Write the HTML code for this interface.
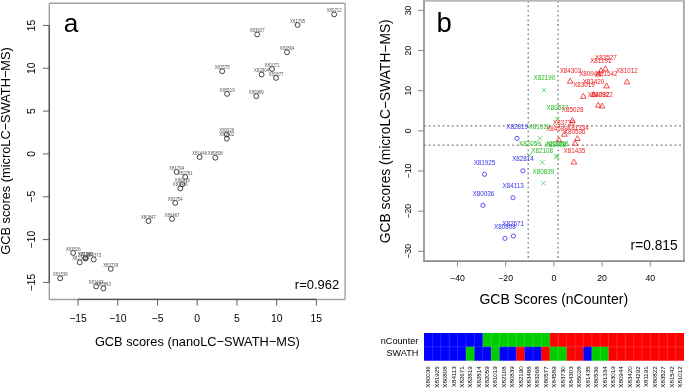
<!DOCTYPE html>
<html><head><meta charset="utf-8"><style>
html,body{margin:0;padding:0;background:#fff;}
body{width:685px;height:388px;overflow:hidden;font-family:"Liberation Sans", sans-serif;}
svg{display:block;will-change:transform;}
</style></head><body>
<svg width="685" height="388" viewBox="0 0 685 388">
<rect width="685" height="388" fill="#fff"/>
<line x1="49.3" y1="3.2" x2="345.1" y2="3.2" stroke="#a2a2a2" stroke-width="1.4"/>
<line x1="345.1" y1="3.2" x2="345.1" y2="299.45" stroke="#a2a2a2" stroke-width="1.4"/>
<line x1="49.3" y1="299.45" x2="345.1" y2="299.45" stroke="#a2a2a2" stroke-width="1.4"/>
<line x1="49.3" y1="3.2" x2="49.3" y2="299.45" stroke="#a2a2a2" stroke-width="1.4"/>
<line x1="49.3" y1="25.41" x2="49.3" y2="282.42" stroke="#505050" stroke-width="1.3"/>
<line x1="43" y1="282.42" x2="49.3" y2="282.42" stroke="#606060" stroke-width="1"/>
<text x="35.2" y="282.42" font-size="10.4" text-anchor="middle" fill="#000" font-family='"Liberation Sans", sans-serif' transform="rotate(-90 35.2 282.42)">−15</text>
<line x1="43" y1="239.59" x2="49.3" y2="239.59" stroke="#606060" stroke-width="1"/>
<text x="35.2" y="239.59" font-size="10.4" text-anchor="middle" fill="#000" font-family='"Liberation Sans", sans-serif' transform="rotate(-90 35.2 239.59)">−10</text>
<line x1="43" y1="196.75" x2="49.3" y2="196.75" stroke="#606060" stroke-width="1"/>
<text x="35.2" y="196.75" font-size="10.4" text-anchor="middle" fill="#000" font-family='"Liberation Sans", sans-serif' transform="rotate(-90 35.2 196.75)">−5</text>
<line x1="43" y1="153.92" x2="49.3" y2="153.92" stroke="#606060" stroke-width="1"/>
<text x="35.2" y="153.92" font-size="10.4" text-anchor="middle" fill="#000" font-family='"Liberation Sans", sans-serif' transform="rotate(-90 35.2 153.92)">0</text>
<line x1="43" y1="111.08" x2="49.3" y2="111.08" stroke="#606060" stroke-width="1"/>
<text x="35.2" y="111.08" font-size="10.4" text-anchor="middle" fill="#000" font-family='"Liberation Sans", sans-serif' transform="rotate(-90 35.2 111.08)">5</text>
<line x1="43" y1="68.25" x2="49.3" y2="68.25" stroke="#606060" stroke-width="1"/>
<text x="35.2" y="68.25" font-size="10.4" text-anchor="middle" fill="#000" font-family='"Liberation Sans", sans-serif' transform="rotate(-90 35.2 68.25)">10</text>
<line x1="43" y1="25.41" x2="49.3" y2="25.41" stroke="#606060" stroke-width="1"/>
<text x="35.2" y="25.41" font-size="10.4" text-anchor="middle" fill="#000" font-family='"Liberation Sans", sans-serif' transform="rotate(-90 35.2 25.41)">15</text>
<line x1="78.04" y1="299.45" x2="316.39" y2="299.45" stroke="#505050" stroke-width="1.3"/>
<line x1="78.04" y1="299.45" x2="78.04" y2="305.5" stroke="#606060" stroke-width="1"/>
<text x="78.04" y="321.8" font-size="10.4" text-anchor="middle" fill="#000" font-family='"Liberation Sans", sans-serif'>−15</text>
<line x1="117.77" y1="299.45" x2="117.77" y2="305.5" stroke="#606060" stroke-width="1"/>
<text x="117.77" y="321.8" font-size="10.4" text-anchor="middle" fill="#000" font-family='"Liberation Sans", sans-serif'>−10</text>
<line x1="157.5" y1="299.45" x2="157.5" y2="305.5" stroke="#606060" stroke-width="1"/>
<text x="157.5" y="321.8" font-size="10.4" text-anchor="middle" fill="#000" font-family='"Liberation Sans", sans-serif'>−5</text>
<line x1="197.22" y1="299.45" x2="197.22" y2="305.5" stroke="#606060" stroke-width="1"/>
<text x="197.22" y="321.8" font-size="10.4" text-anchor="middle" fill="#000" font-family='"Liberation Sans", sans-serif'>0</text>
<line x1="236.94" y1="299.45" x2="236.94" y2="305.5" stroke="#606060" stroke-width="1"/>
<text x="236.94" y="321.8" font-size="10.4" text-anchor="middle" fill="#000" font-family='"Liberation Sans", sans-serif'>5</text>
<line x1="276.67" y1="299.45" x2="276.67" y2="305.5" stroke="#606060" stroke-width="1"/>
<text x="276.67" y="321.8" font-size="10.4" text-anchor="middle" fill="#000" font-family='"Liberation Sans", sans-serif'>10</text>
<line x1="316.39" y1="299.45" x2="316.39" y2="305.5" stroke="#606060" stroke-width="1"/>
<text x="316.39" y="321.8" font-size="10.4" text-anchor="middle" fill="#000" font-family='"Liberation Sans", sans-serif'>15</text>
<text x="197.3" y="346.3" font-size="12.8" text-anchor="middle" fill="#000" font-family='"Liberation Sans", sans-serif'>GCB scores (nanoLC−SWATH−MS)</text>
<text x="10.2" y="151" font-size="12.8" text-anchor="middle" fill="#000" font-family='"Liberation Sans", sans-serif' transform="rotate(-90 10.2 151)">GCB scores (microLC−SWATH−MS)</text>
<text x="63.8" y="32" font-size="26.2" text-anchor="start" fill="#000" font-family='"Liberation Sans", sans-serif'>a</text>
<text x="339.1" y="288.5" font-size="12.95" text-anchor="end" fill="#000" font-family='"Liberation Sans", sans-serif'>r=0.962</text>
<circle cx="334.2" cy="14.4" r="2.45" fill="none" stroke="#222" stroke-width="0.85"/>
<circle cx="297.6" cy="25" r="2.45" fill="none" stroke="#222" stroke-width="0.85"/>
<circle cx="257.2" cy="34.5" r="2.45" fill="none" stroke="#222" stroke-width="0.85"/>
<circle cx="287" cy="52.3" r="2.45" fill="none" stroke="#222" stroke-width="0.85"/>
<circle cx="222.2" cy="71.2" r="2.45" fill="none" stroke="#222" stroke-width="0.85"/>
<circle cx="272" cy="69" r="2.45" fill="none" stroke="#222" stroke-width="0.85"/>
<circle cx="261.6" cy="74.5" r="2.45" fill="none" stroke="#222" stroke-width="0.85"/>
<circle cx="276" cy="77.9" r="2.45" fill="none" stroke="#222" stroke-width="0.85"/>
<circle cx="227.1" cy="93.9" r="2.45" fill="none" stroke="#222" stroke-width="0.85"/>
<circle cx="256.3" cy="96.2" r="2.45" fill="none" stroke="#222" stroke-width="0.85"/>
<circle cx="226.8" cy="134.6" r="2.45" fill="none" stroke="#222" stroke-width="0.85"/>
<circle cx="226.8" cy="138.6" r="2.45" fill="none" stroke="#222" stroke-width="0.85"/>
<circle cx="199.6" cy="157.1" r="2.45" fill="none" stroke="#222" stroke-width="0.85"/>
<circle cx="215.3" cy="157.7" r="2.45" fill="none" stroke="#222" stroke-width="0.85"/>
<circle cx="176.6" cy="171.9" r="2.45" fill="none" stroke="#222" stroke-width="0.85"/>
<circle cx="185.2" cy="177" r="2.45" fill="none" stroke="#222" stroke-width="0.85"/>
<circle cx="182.3" cy="184.3" r="2.45" fill="none" stroke="#222" stroke-width="0.85"/>
<circle cx="180.3" cy="188.4" r="2.45" fill="none" stroke="#222" stroke-width="0.85"/>
<circle cx="175.2" cy="202.9" r="2.45" fill="none" stroke="#222" stroke-width="0.85"/>
<circle cx="172" cy="218.9" r="2.45" fill="none" stroke="#222" stroke-width="0.85"/>
<circle cx="148.4" cy="221.1" r="2.45" fill="none" stroke="#222" stroke-width="0.85"/>
<circle cx="73.2" cy="253" r="2.45" fill="none" stroke="#222" stroke-width="0.85"/>
<circle cx="79.7" cy="262.4" r="2.45" fill="none" stroke="#222" stroke-width="0.85"/>
<circle cx="85.3" cy="258.5" r="2.45" fill="none" stroke="#222" stroke-width="0.85"/>
<circle cx="85.8" cy="258" r="2.45" fill="none" stroke="#222" stroke-width="0.85"/>
<circle cx="93.7" cy="259.6" r="2.45" fill="none" stroke="#222" stroke-width="0.85"/>
<circle cx="110.7" cy="268.9" r="2.45" fill="none" stroke="#222" stroke-width="0.85"/>
<circle cx="60.2" cy="278.3" r="2.45" fill="none" stroke="#222" stroke-width="0.85"/>
<circle cx="96.1" cy="286.4" r="2.45" fill="none" stroke="#222" stroke-width="0.85"/>
<circle cx="103.4" cy="288.4" r="2.45" fill="none" stroke="#222" stroke-width="0.85"/>
<text x="334.2" y="12.05" font-size="5" text-anchor="middle" fill="#555" font-family='"Liberation Sans", sans-serif' textLength="15" lengthAdjust="spacingAndGlyphs">X80712</text>
<text x="297.6" y="22.65" font-size="5" text-anchor="middle" fill="#555" font-family='"Liberation Sans", sans-serif' textLength="15" lengthAdjust="spacingAndGlyphs">X81795</text>
<text x="257.2" y="32.15" font-size="5" text-anchor="middle" fill="#555" font-family='"Liberation Sans", sans-serif' textLength="15" lengthAdjust="spacingAndGlyphs">X83637</text>
<text x="287" y="49.95" font-size="5" text-anchor="middle" fill="#555" font-family='"Liberation Sans", sans-serif' textLength="15" lengthAdjust="spacingAndGlyphs">X82804</text>
<text x="222.2" y="68.85" font-size="5" text-anchor="middle" fill="#555" font-family='"Liberation Sans", sans-serif' textLength="15" lengthAdjust="spacingAndGlyphs">X82575</text>
<text x="272" y="66.65" font-size="5" text-anchor="middle" fill="#555" font-family='"Liberation Sans", sans-serif' textLength="15" lengthAdjust="spacingAndGlyphs">X81071</text>
<text x="261.6" y="72.15" font-size="5" text-anchor="middle" fill="#555" font-family='"Liberation Sans", sans-serif' textLength="15" lengthAdjust="spacingAndGlyphs">X82904</text>
<text x="276" y="75.55" font-size="5" text-anchor="middle" fill="#555" font-family='"Liberation Sans", sans-serif' textLength="15" lengthAdjust="spacingAndGlyphs">X81877</text>
<text x="227.1" y="91.55" font-size="5" text-anchor="middle" fill="#555" font-family='"Liberation Sans", sans-serif' textLength="15" lengthAdjust="spacingAndGlyphs">X80519</text>
<text x="256.3" y="93.85" font-size="5" text-anchor="middle" fill="#555" font-family='"Liberation Sans", sans-serif' textLength="15" lengthAdjust="spacingAndGlyphs">X80989</text>
<text x="226.8" y="132.25" font-size="5" text-anchor="middle" fill="#555" font-family='"Liberation Sans", sans-serif' textLength="15" lengthAdjust="spacingAndGlyphs">X80926</text>
<text x="226.8" y="136.25" font-size="5" text-anchor="middle" fill="#555" font-family='"Liberation Sans", sans-serif' textLength="15" lengthAdjust="spacingAndGlyphs">X80402</text>
<text x="199.6" y="154.75" font-size="5" text-anchor="middle" fill="#555" font-family='"Liberation Sans", sans-serif' textLength="15" lengthAdjust="spacingAndGlyphs">X81446</text>
<text x="215.3" y="155.35" font-size="5" text-anchor="middle" fill="#555" font-family='"Liberation Sans", sans-serif' textLength="15" lengthAdjust="spacingAndGlyphs">X80808</text>
<text x="176.6" y="169.55" font-size="5" text-anchor="middle" fill="#555" font-family='"Liberation Sans", sans-serif' textLength="15" lengthAdjust="spacingAndGlyphs">X81794</text>
<text x="185.2" y="174.65" font-size="5" text-anchor="middle" fill="#555" font-family='"Liberation Sans", sans-serif' textLength="15" lengthAdjust="spacingAndGlyphs">X82761</text>
<text x="182.3" y="181.95" font-size="5" text-anchor="middle" fill="#555" font-family='"Liberation Sans", sans-serif' textLength="15" lengthAdjust="spacingAndGlyphs">X80419</text>
<text x="180.3" y="186.05" font-size="5" text-anchor="middle" fill="#555" font-family='"Liberation Sans", sans-serif' textLength="15" lengthAdjust="spacingAndGlyphs">X81406</text>
<text x="175.2" y="200.55" font-size="5" text-anchor="middle" fill="#555" font-family='"Liberation Sans", sans-serif' textLength="15" lengthAdjust="spacingAndGlyphs">X82754</text>
<text x="172" y="216.55" font-size="5" text-anchor="middle" fill="#555" font-family='"Liberation Sans", sans-serif' textLength="15" lengthAdjust="spacingAndGlyphs">X80467</text>
<text x="148.4" y="218.75" font-size="5" text-anchor="middle" fill="#555" font-family='"Liberation Sans", sans-serif' textLength="15" lengthAdjust="spacingAndGlyphs">X80847</text>
<text x="73.2" y="250.65" font-size="5" text-anchor="middle" fill="#555" font-family='"Liberation Sans", sans-serif' textLength="15" lengthAdjust="spacingAndGlyphs">X83516</text>
<text x="79.7" y="260.05" font-size="5" text-anchor="middle" fill="#555" font-family='"Liberation Sans", sans-serif' textLength="15" lengthAdjust="spacingAndGlyphs">X82348</text>
<text x="85.3" y="256.15" font-size="5" text-anchor="middle" fill="#555" font-family='"Liberation Sans", sans-serif' textLength="15" lengthAdjust="spacingAndGlyphs">X82780</text>
<text x="85.8" y="255.65" font-size="5" text-anchor="middle" fill="#555" font-family='"Liberation Sans", sans-serif' textLength="15" lengthAdjust="spacingAndGlyphs">X81902</text>
<text x="93.7" y="257.25" font-size="5" text-anchor="middle" fill="#555" font-family='"Liberation Sans", sans-serif' textLength="15" lengthAdjust="spacingAndGlyphs">X80373</text>
<text x="110.7" y="266.55" font-size="5" text-anchor="middle" fill="#555" font-family='"Liberation Sans", sans-serif' textLength="15" lengthAdjust="spacingAndGlyphs">X83739</text>
<text x="60.2" y="275.95" font-size="5" text-anchor="middle" fill="#555" font-family='"Liberation Sans", sans-serif' textLength="15" lengthAdjust="spacingAndGlyphs">X81538</text>
<text x="96.1" y="284.05" font-size="5" text-anchor="middle" fill="#555" font-family='"Liberation Sans", sans-serif' textLength="15" lengthAdjust="spacingAndGlyphs">X81438</text>
<text x="103.4" y="286.05" font-size="5" text-anchor="middle" fill="#555" font-family='"Liberation Sans", sans-serif' textLength="15" lengthAdjust="spacingAndGlyphs">X81863</text>
<line x1="528.2" y1="0.9" x2="528.2" y2="261.15" stroke="#7a7a7a" stroke-width="1.25" stroke-dasharray="1.8 2.84"/>
<line x1="558.0" y1="0.9" x2="558.0" y2="261.15" stroke="#7a7a7a" stroke-width="1.25" stroke-dasharray="1.8 2.84"/>
<line x1="424.0" y1="125.8" x2="683.9" y2="125.8" stroke="#7a7a7a" stroke-width="1.25" stroke-dasharray="1.8 2.84"/>
<line x1="424.0" y1="145.0" x2="683.9" y2="145.0" stroke="#7a7a7a" stroke-width="1.25" stroke-dasharray="1.8 2.84"/>
<line x1="423.2" y1="0.9" x2="684.7" y2="0.9" stroke="#b8b8b8" stroke-width="1.6"/>
<line x1="683.9" y1="0.9" x2="683.9" y2="261.15" stroke="#9a9a9a" stroke-width="1.6"/>
<line x1="423.2" y1="261.15" x2="684.7" y2="261.15" stroke="#8a8a8a" stroke-width="1.6"/>
<line x1="424" y1="0.9" x2="424" y2="261.15" stroke="#8a8a8a" stroke-width="1.6"/>
<line x1="418" y1="251.34" x2="424" y2="251.34" stroke="#8a8a8a" stroke-width="1"/>
<text x="411" y="251.34" font-size="8.7" text-anchor="middle" fill="#000" font-family='"Liberation Sans", sans-serif' transform="rotate(-90 411 251.34)">−30</text>
<line x1="418" y1="211.19" x2="424" y2="211.19" stroke="#8a8a8a" stroke-width="1"/>
<text x="411" y="211.19" font-size="8.7" text-anchor="middle" fill="#000" font-family='"Liberation Sans", sans-serif' transform="rotate(-90 411 211.19)">−20</text>
<line x1="418" y1="171.03" x2="424" y2="171.03" stroke="#8a8a8a" stroke-width="1"/>
<text x="411" y="171.03" font-size="8.7" text-anchor="middle" fill="#000" font-family='"Liberation Sans", sans-serif' transform="rotate(-90 411 171.03)">−10</text>
<line x1="418" y1="130.88" x2="424" y2="130.88" stroke="#8a8a8a" stroke-width="1"/>
<text x="411" y="130.88" font-size="8.7" text-anchor="middle" fill="#000" font-family='"Liberation Sans", sans-serif' transform="rotate(-90 411 130.88)">0</text>
<line x1="418" y1="90.73" x2="424" y2="90.73" stroke="#8a8a8a" stroke-width="1"/>
<text x="411" y="90.73" font-size="8.7" text-anchor="middle" fill="#000" font-family='"Liberation Sans", sans-serif' transform="rotate(-90 411 90.73)">10</text>
<line x1="418" y1="50.57" x2="424" y2="50.57" stroke="#8a8a8a" stroke-width="1"/>
<text x="411" y="50.57" font-size="8.7" text-anchor="middle" fill="#000" font-family='"Liberation Sans", sans-serif' transform="rotate(-90 411 50.57)">20</text>
<line x1="418" y1="10.42" x2="424" y2="10.42" stroke="#8a8a8a" stroke-width="1"/>
<text x="411" y="10.42" font-size="8.7" text-anchor="middle" fill="#000" font-family='"Liberation Sans", sans-serif' transform="rotate(-90 411 10.42)">30</text>
<line x1="457.47" y1="261.15" x2="457.47" y2="266.5" stroke="#8a8a8a" stroke-width="1"/>
<text x="457.47" y="281.1" font-size="8.7" text-anchor="middle" fill="#000" font-family='"Liberation Sans", sans-serif'>−40</text>
<line x1="505.67" y1="261.15" x2="505.67" y2="266.5" stroke="#8a8a8a" stroke-width="1"/>
<text x="505.67" y="281.1" font-size="8.7" text-anchor="middle" fill="#000" font-family='"Liberation Sans", sans-serif'>−20</text>
<line x1="553.87" y1="261.15" x2="553.87" y2="266.5" stroke="#8a8a8a" stroke-width="1"/>
<text x="553.87" y="281.1" font-size="8.7" text-anchor="middle" fill="#000" font-family='"Liberation Sans", sans-serif'>0</text>
<line x1="602.07" y1="261.15" x2="602.07" y2="266.5" stroke="#8a8a8a" stroke-width="1"/>
<text x="602.07" y="281.1" font-size="8.7" text-anchor="middle" fill="#000" font-family='"Liberation Sans", sans-serif'>20</text>
<line x1="650.27" y1="261.15" x2="650.27" y2="266.5" stroke="#8a8a8a" stroke-width="1"/>
<text x="650.27" y="281.1" font-size="8.7" text-anchor="middle" fill="#000" font-family='"Liberation Sans", sans-serif'>40</text>
<text x="553.8" y="303.6" font-size="14" text-anchor="middle" fill="#000" font-family='"Liberation Sans", sans-serif'>GCB Scores (nCounter)</text>
<text x="389.7" y="131.2" font-size="13.8" text-anchor="middle" fill="#000" font-family='"Liberation Sans", sans-serif' transform="rotate(-90 389.7 131.2)">GCB scores (microLC−SWATH−MS)</text>
<text x="436.5" y="32" font-size="27.5" text-anchor="start" fill="#000" font-family='"Liberation Sans", sans-serif'>b</text>
<text x="677.6" y="249.8" font-size="13.75" text-anchor="end" fill="#000" font-family='"Liberation Sans", sans-serif'>r=0.815</text>
<circle cx="517" cy="138.4" r="2.1" fill="none" stroke="#3333ee" stroke-width="0.8"/>
<circle cx="484.5" cy="174.3" r="2.1" fill="none" stroke="#3333ee" stroke-width="0.8"/>
<circle cx="522.8" cy="170.8" r="2.1" fill="none" stroke="#3333ee" stroke-width="0.8"/>
<circle cx="512.9" cy="197.7" r="2.1" fill="none" stroke="#3333ee" stroke-width="0.8"/>
<circle cx="482.9" cy="205.4" r="2.1" fill="none" stroke="#3333ee" stroke-width="0.8"/>
<circle cx="513.4" cy="236.1" r="2.1" fill="none" stroke="#3333ee" stroke-width="0.8"/>
<circle cx="504.9" cy="238.4" r="2.1" fill="none" stroke="#3333ee" stroke-width="0.8"/>
<path d="M541.7 87.7L546.3 92.3M541.7 92.3L546.3 87.7" stroke="#3fcf3f" stroke-width="0.75" fill="none"/>
<path d="M555.1 116.7L559.7 121.3M555.1 121.3L559.7 116.7" stroke="#3fcf3f" stroke-width="0.75" fill="none"/>
<path d="M537.6 136.1L542.2 140.7M537.6 140.7L542.2 136.1" stroke="#3fcf3f" stroke-width="0.75" fill="none"/>
<path d="M527.2 153L531.8 157.6M527.2 157.6L531.8 153" stroke="#3fcf3f" stroke-width="0.75" fill="none"/>
<path d="M554.2 154.7L558.8 159.3M554.2 159.3L558.8 154.7" stroke="#3fcf3f" stroke-width="0.75" fill="none"/>
<path d="M554.7 153.7L559.3 158.3M554.7 158.3L559.3 153.7" stroke="#3fcf3f" stroke-width="0.75" fill="none"/>
<path d="M540 160.1L544.6 164.7M540 164.7L544.6 160.1" stroke="#3fcf3f" stroke-width="0.75" fill="none"/>
<path d="M541.1 181L545.7 185.6M541.1 185.6L545.7 181" stroke="#3fcf3f" stroke-width="0.75" fill="none"/>
<path d="M627 78.93L629.83 83.83L624.17 83.83Z" stroke="#ee2222" stroke-width="0.8" fill="none"/>
<path d="M570.2 78.23L573.03 83.13L567.37 83.13Z" stroke="#ee2222" stroke-width="0.8" fill="none"/>
<path d="M605.4 65.93L608.23 70.83L602.57 70.83Z" stroke="#ee2222" stroke-width="0.8" fill="none"/>
<path d="M600.9 67.73L603.73 72.63L598.07 72.63Z" stroke="#ee2222" stroke-width="0.8" fill="none"/>
<path d="M606.6 83.03L609.43 87.93L603.77 87.93Z" stroke="#ee2222" stroke-width="0.8" fill="none"/>
<path d="M598.4 71.23L601.23 76.13L595.57 76.13Z" stroke="#ee2222" stroke-width="0.8" fill="none"/>
<path d="M593.5 91.73L596.33 96.63L590.67 96.63Z" stroke="#ee2222" stroke-width="0.8" fill="none"/>
<path d="M583.3 93.43L586.13 98.33L580.47 98.33Z" stroke="#ee2222" stroke-width="0.8" fill="none"/>
<path d="M598.3 102.23L601.13 107.13L595.47 107.13Z" stroke="#ee2222" stroke-width="0.8" fill="none"/>
<path d="M602.1 103.13L604.93 108.03L599.27 108.03Z" stroke="#ee2222" stroke-width="0.8" fill="none"/>
<path d="M572.4 117.53L575.23 122.43L569.57 122.43Z" stroke="#ee2222" stroke-width="0.8" fill="none"/>
<path d="M564.4 131.33L567.23 136.23L561.57 136.23Z" stroke="#ee2222" stroke-width="0.8" fill="none"/>
<path d="M558.8 137.03L561.63 141.93L555.97 141.93Z" stroke="#ee2222" stroke-width="0.8" fill="none"/>
<path d="M577.4 135.63L580.23 140.53L574.57 140.53Z" stroke="#ee2222" stroke-width="0.8" fill="none"/>
<path d="M575 140.33L577.83 145.23L572.17 145.23Z" stroke="#ee2222" stroke-width="0.8" fill="none"/>
<path d="M573.9 159.13L576.73 164.03L571.07 164.03Z" stroke="#ee2222" stroke-width="0.8" fill="none"/>
<text x="517.2" y="128.9" font-size="6.3" text-anchor="middle" fill="#3333ee" font-family='"Liberation Sans", sans-serif'>X82819</text>
<text x="484.5" y="164.5" font-size="6.3" text-anchor="middle" fill="#3333ee" font-family='"Liberation Sans", sans-serif'>X81925</text>
<text x="523" y="161" font-size="6.3" text-anchor="middle" fill="#3333ee" font-family='"Liberation Sans", sans-serif'>X82814</text>
<text x="513.1" y="187.8" font-size="6.3" text-anchor="middle" fill="#3333ee" font-family='"Liberation Sans", sans-serif'>X84113</text>
<text x="483.3" y="195.7" font-size="6.3" text-anchor="middle" fill="#3333ee" font-family='"Liberation Sans", sans-serif'>X80036</text>
<text x="513.1" y="226.2" font-size="6.3" text-anchor="middle" fill="#3333ee" font-family='"Liberation Sans", sans-serif'>X82671</text>
<text x="504.9" y="228.7" font-size="6.3" text-anchor="middle" fill="#3333ee" font-family='"Liberation Sans", sans-serif'>X80808</text>
<text x="544.4" y="80.2" font-size="6.3" text-anchor="middle" fill="#22bb22" font-family='"Liberation Sans", sans-serif'>X82190</text>
<text x="557.4" y="110.2" font-size="6.3" text-anchor="middle" fill="#22bb22" font-family='"Liberation Sans", sans-serif'>X80577</text>
<text x="539.3" y="129" font-size="6.3" text-anchor="middle" fill="#22bb22" font-family='"Liberation Sans", sans-serif'>X81019</text>
<text x="529.9" y="145.7" font-size="6.3" text-anchor="middle" fill="#22bb22" font-family='"Liberation Sans", sans-serif'>X82059</text>
<text x="555.5" y="146.5" font-size="6.3" text-anchor="middle" fill="#22bb22" font-family='"Liberation Sans", sans-serif'>X83488</text>
<text x="557.5" y="146.2" font-size="6.3" text-anchor="middle" fill="#22bb22" font-family='"Liberation Sans", sans-serif'>X83268</text>
<text x="542.2" y="152.9" font-size="6.3" text-anchor="middle" fill="#22bb22" font-family='"Liberation Sans", sans-serif'>X82108</text>
<text x="543.4" y="173.7" font-size="6.3" text-anchor="middle" fill="#22bb22" font-family='"Liberation Sans", sans-serif'>X80839</text>
<text x="627" y="73" font-size="6.3" text-anchor="middle" fill="#ee2222" font-family='"Liberation Sans", sans-serif'>X81012</text>
<text x="570.5" y="72.6" font-size="6.3" text-anchor="middle" fill="#ee2222" font-family='"Liberation Sans", sans-serif'>X84303</text>
<text x="605.8" y="59.9" font-size="6.3" text-anchor="middle" fill="#ee2222" font-family='"Liberation Sans", sans-serif'>X83527</text>
<text x="600.8" y="62.7" font-size="6.3" text-anchor="middle" fill="#ee2222" font-family='"Liberation Sans", sans-serif'>X81191</text>
<text x="606.7" y="75.9" font-size="6.3" text-anchor="middle" fill="#ee2222" font-family='"Liberation Sans", sans-serif'>X81542</text>
<text x="590" y="75.9" font-size="6.3" text-anchor="middle" fill="#ee2222" font-family='"Liberation Sans", sans-serif'>X80944</text>
<text x="593.5" y="84.4" font-size="6.3" text-anchor="middle" fill="#ee2222" font-family='"Liberation Sans", sans-serif'>X83420</text>
<text x="584" y="87.3" font-size="6.3" text-anchor="middle" fill="#ee2222" font-family='"Liberation Sans", sans-serif'>X83019</text>
<text x="598.5" y="96.6" font-size="6.3" text-anchor="middle" fill="#ee2222" font-family='"Liberation Sans", sans-serif'>X84292</text>
<text x="602" y="96.6" font-size="6.3" text-anchor="middle" fill="#ee2222" font-family='"Liberation Sans", sans-serif'>X80822</text>
<text x="572.6" y="112" font-size="6.3" text-anchor="middle" fill="#ee2222" font-family='"Liberation Sans", sans-serif'>X85028</text>
<text x="563.9" y="124.9" font-size="6.3" text-anchor="middle" fill="#ee2222" font-family='"Liberation Sans", sans-serif'>X83730</text>
<text x="557" y="131.4" font-size="6.3" text-anchor="middle" fill="#ee2222" font-family='"Liberation Sans", sans-serif'>X84589</text>
<text x="577.8" y="130" font-size="6.3" text-anchor="middle" fill="#ee2222" font-family='"Liberation Sans", sans-serif'>X81334</text>
<text x="574.6" y="133.7" font-size="6.3" text-anchor="middle" fill="#ee2222" font-family='"Liberation Sans", sans-serif'>X80536</text>
<text x="574.4" y="153.3" font-size="6.3" text-anchor="middle" fill="#ee2222" font-family='"Liberation Sans", sans-serif'>X81435</text>
<rect x="424" y="333" width="8.99" height="14.4" fill="#0000ff"/>
<rect x="432.39" y="333" width="8.99" height="14.4" fill="#0000ff"/>
<rect x="440.77" y="333" width="8.99" height="14.4" fill="#0000ff"/>
<rect x="449.16" y="333" width="8.99" height="14.4" fill="#0000ff"/>
<rect x="457.55" y="333" width="8.99" height="14.4" fill="#0000ff"/>
<rect x="465.94" y="333" width="8.99" height="14.4" fill="#0000ff"/>
<rect x="474.32" y="333" width="8.99" height="14.4" fill="#0000ff"/>
<rect x="482.71" y="333" width="8.99" height="14.4" fill="#00cd00"/>
<rect x="491.1" y="333" width="8.99" height="14.4" fill="#00cd00"/>
<rect x="499.48" y="333" width="8.99" height="14.4" fill="#00cd00"/>
<rect x="507.87" y="333" width="8.99" height="14.4" fill="#00cd00"/>
<rect x="516.26" y="333" width="8.99" height="14.4" fill="#00cd00"/>
<rect x="524.65" y="333" width="8.99" height="14.4" fill="#00cd00"/>
<rect x="533.03" y="333" width="8.99" height="14.4" fill="#00cd00"/>
<rect x="541.42" y="333" width="8.99" height="14.4" fill="#00cd00"/>
<rect x="549.81" y="333" width="8.99" height="14.4" fill="#ff0000"/>
<rect x="558.19" y="333" width="8.99" height="14.4" fill="#ff0000"/>
<rect x="566.58" y="333" width="8.99" height="14.4" fill="#ff0000"/>
<rect x="574.97" y="333" width="8.99" height="14.4" fill="#ff0000"/>
<rect x="583.35" y="333" width="8.99" height="14.4" fill="#ff0000"/>
<rect x="591.74" y="333" width="8.99" height="14.4" fill="#ff0000"/>
<rect x="600.13" y="333" width="8.99" height="14.4" fill="#ff0000"/>
<rect x="608.52" y="333" width="8.99" height="14.4" fill="#ff0000"/>
<rect x="616.9" y="333" width="8.99" height="14.4" fill="#ff0000"/>
<rect x="625.29" y="333" width="8.99" height="14.4" fill="#ff0000"/>
<rect x="633.68" y="333" width="8.99" height="14.4" fill="#ff0000"/>
<rect x="642.06" y="333" width="8.99" height="14.4" fill="#ff0000"/>
<rect x="650.45" y="333" width="8.99" height="14.4" fill="#ff0000"/>
<rect x="658.84" y="333" width="8.99" height="14.4" fill="#ff0000"/>
<rect x="667.23" y="333" width="8.99" height="14.4" fill="#ff0000"/>
<rect x="675.61" y="333" width="8.39" height="14.4" fill="#ff0000"/>
<rect x="424" y="346.8" width="8.99" height="13.9" fill="#0000ff"/>
<rect x="432.39" y="346.8" width="8.99" height="13.9" fill="#0000ff"/>
<rect x="440.77" y="346.8" width="8.99" height="13.9" fill="#0000ff"/>
<rect x="449.16" y="346.8" width="8.99" height="13.9" fill="#0000ff"/>
<rect x="457.55" y="346.8" width="8.99" height="13.9" fill="#0000ff"/>
<rect x="465.94" y="346.8" width="8.99" height="13.9" fill="#00cd00"/>
<rect x="474.32" y="346.8" width="8.99" height="13.9" fill="#0000ff"/>
<rect x="482.71" y="346.8" width="8.99" height="13.9" fill="#0000ff"/>
<rect x="491.1" y="346.8" width="8.99" height="13.9" fill="#00cd00"/>
<rect x="499.48" y="346.8" width="8.99" height="13.9" fill="#0000ff"/>
<rect x="507.87" y="346.8" width="8.99" height="13.9" fill="#0000ff"/>
<rect x="516.26" y="346.8" width="8.99" height="13.9" fill="#ff0000"/>
<rect x="524.65" y="346.8" width="8.99" height="13.9" fill="#0000ff"/>
<rect x="533.03" y="346.8" width="8.99" height="13.9" fill="#0000ff"/>
<rect x="541.42" y="346.8" width="8.99" height="13.9" fill="#ff0000"/>
<rect x="549.81" y="346.8" width="8.99" height="13.9" fill="#00cd00"/>
<rect x="558.19" y="346.8" width="8.99" height="13.9" fill="#00cd00"/>
<rect x="566.58" y="346.8" width="8.99" height="13.9" fill="#ff0000"/>
<rect x="574.97" y="346.8" width="8.99" height="13.9" fill="#ff0000"/>
<rect x="583.35" y="346.8" width="8.99" height="13.9" fill="#0000ff"/>
<rect x="591.74" y="346.8" width="8.99" height="13.9" fill="#00cd00"/>
<rect x="600.13" y="346.8" width="8.99" height="13.9" fill="#00cd00"/>
<rect x="608.52" y="346.8" width="8.99" height="13.9" fill="#ff0000"/>
<rect x="616.9" y="346.8" width="8.99" height="13.9" fill="#ff0000"/>
<rect x="625.29" y="346.8" width="8.99" height="13.9" fill="#ff0000"/>
<rect x="633.68" y="346.8" width="8.99" height="13.9" fill="#ff0000"/>
<rect x="642.06" y="346.8" width="8.99" height="13.9" fill="#ff0000"/>
<rect x="650.45" y="346.8" width="8.99" height="13.9" fill="#ff0000"/>
<rect x="658.84" y="346.8" width="8.99" height="13.9" fill="#ff0000"/>
<rect x="667.23" y="346.8" width="8.99" height="13.9" fill="#ff0000"/>
<rect x="675.61" y="346.8" width="8.39" height="13.9" fill="#ff0000"/>
<line x1="432.39" y1="333" x2="432.39" y2="360.7" stroke="#fff" stroke-opacity="0.22" stroke-width="0.7"/>
<line x1="440.77" y1="333" x2="440.77" y2="360.7" stroke="#fff" stroke-opacity="0.22" stroke-width="0.7"/>
<line x1="449.16" y1="333" x2="449.16" y2="360.7" stroke="#fff" stroke-opacity="0.22" stroke-width="0.7"/>
<line x1="457.55" y1="333" x2="457.55" y2="360.7" stroke="#fff" stroke-opacity="0.22" stroke-width="0.7"/>
<line x1="465.94" y1="333" x2="465.94" y2="360.7" stroke="#fff" stroke-opacity="0.22" stroke-width="0.7"/>
<line x1="474.32" y1="333" x2="474.32" y2="360.7" stroke="#fff" stroke-opacity="0.22" stroke-width="0.7"/>
<line x1="482.71" y1="333" x2="482.71" y2="360.7" stroke="#fff" stroke-opacity="0.22" stroke-width="0.7"/>
<line x1="491.1" y1="333" x2="491.1" y2="360.7" stroke="#fff" stroke-opacity="0.22" stroke-width="0.7"/>
<line x1="499.48" y1="333" x2="499.48" y2="360.7" stroke="#fff" stroke-opacity="0.22" stroke-width="0.7"/>
<line x1="507.87" y1="333" x2="507.87" y2="360.7" stroke="#fff" stroke-opacity="0.22" stroke-width="0.7"/>
<line x1="516.26" y1="333" x2="516.26" y2="360.7" stroke="#fff" stroke-opacity="0.22" stroke-width="0.7"/>
<line x1="524.65" y1="333" x2="524.65" y2="360.7" stroke="#fff" stroke-opacity="0.22" stroke-width="0.7"/>
<line x1="533.03" y1="333" x2="533.03" y2="360.7" stroke="#fff" stroke-opacity="0.22" stroke-width="0.7"/>
<line x1="541.42" y1="333" x2="541.42" y2="360.7" stroke="#fff" stroke-opacity="0.22" stroke-width="0.7"/>
<line x1="549.81" y1="333" x2="549.81" y2="360.7" stroke="#fff" stroke-opacity="0.22" stroke-width="0.7"/>
<line x1="558.19" y1="333" x2="558.19" y2="360.7" stroke="#fff" stroke-opacity="0.22" stroke-width="0.7"/>
<line x1="566.58" y1="333" x2="566.58" y2="360.7" stroke="#fff" stroke-opacity="0.22" stroke-width="0.7"/>
<line x1="574.97" y1="333" x2="574.97" y2="360.7" stroke="#fff" stroke-opacity="0.22" stroke-width="0.7"/>
<line x1="583.35" y1="333" x2="583.35" y2="360.7" stroke="#fff" stroke-opacity="0.22" stroke-width="0.7"/>
<line x1="591.74" y1="333" x2="591.74" y2="360.7" stroke="#fff" stroke-opacity="0.22" stroke-width="0.7"/>
<line x1="600.13" y1="333" x2="600.13" y2="360.7" stroke="#fff" stroke-opacity="0.22" stroke-width="0.7"/>
<line x1="608.52" y1="333" x2="608.52" y2="360.7" stroke="#fff" stroke-opacity="0.22" stroke-width="0.7"/>
<line x1="616.9" y1="333" x2="616.9" y2="360.7" stroke="#fff" stroke-opacity="0.22" stroke-width="0.7"/>
<line x1="625.29" y1="333" x2="625.29" y2="360.7" stroke="#fff" stroke-opacity="0.22" stroke-width="0.7"/>
<line x1="633.68" y1="333" x2="633.68" y2="360.7" stroke="#fff" stroke-opacity="0.22" stroke-width="0.7"/>
<line x1="642.06" y1="333" x2="642.06" y2="360.7" stroke="#fff" stroke-opacity="0.22" stroke-width="0.7"/>
<line x1="650.45" y1="333" x2="650.45" y2="360.7" stroke="#fff" stroke-opacity="0.22" stroke-width="0.7"/>
<line x1="658.84" y1="333" x2="658.84" y2="360.7" stroke="#fff" stroke-opacity="0.22" stroke-width="0.7"/>
<line x1="667.23" y1="333" x2="667.23" y2="360.7" stroke="#fff" stroke-opacity="0.22" stroke-width="0.7"/>
<line x1="675.61" y1="333" x2="675.61" y2="360.7" stroke="#fff" stroke-opacity="0.22" stroke-width="0.7"/>
<line x1="424" y1="346.8" x2="684" y2="346.8" stroke="#fff" stroke-opacity="0.2" stroke-width="0.7"/>
<text x="418.3" y="343.6" font-size="9.15" text-anchor="end" fill="#000" font-family='"Liberation Sans", sans-serif'>nCounter</text>
<text x="418.3" y="356.4" font-size="9.1" text-anchor="end" fill="#000" font-family='"Liberation Sans", sans-serif'>SWATH</text>
<text x="430.39" y="366.3" font-size="6.2" text-anchor="end" fill="#000" font-family='"Liberation Sans", sans-serif' transform="rotate(-90 430.39 366.3)">X80036</text>
<text x="438.78" y="366.3" font-size="6.2" text-anchor="end" fill="#000" font-family='"Liberation Sans", sans-serif' transform="rotate(-90 438.78 366.3)">X81925</text>
<text x="447.17" y="366.3" font-size="6.2" text-anchor="end" fill="#000" font-family='"Liberation Sans", sans-serif' transform="rotate(-90 447.17 366.3)">X80808</text>
<text x="455.55" y="366.3" font-size="6.2" text-anchor="end" fill="#000" font-family='"Liberation Sans", sans-serif' transform="rotate(-90 455.55 366.3)">X84113</text>
<text x="463.94" y="366.3" font-size="6.2" text-anchor="end" fill="#000" font-family='"Liberation Sans", sans-serif' transform="rotate(-90 463.94 366.3)">X82671</text>
<text x="472.33" y="366.3" font-size="6.2" text-anchor="end" fill="#000" font-family='"Liberation Sans", sans-serif' transform="rotate(-90 472.33 366.3)">X82819</text>
<text x="480.72" y="366.3" font-size="6.2" text-anchor="end" fill="#000" font-family='"Liberation Sans", sans-serif' transform="rotate(-90 480.72 366.3)">X82814</text>
<text x="489.1" y="366.3" font-size="6.2" text-anchor="end" fill="#000" font-family='"Liberation Sans", sans-serif' transform="rotate(-90 489.1 366.3)">X82059</text>
<text x="497.49" y="366.3" font-size="6.2" text-anchor="end" fill="#000" font-family='"Liberation Sans", sans-serif' transform="rotate(-90 497.49 366.3)">X81019</text>
<text x="505.88" y="366.3" font-size="6.2" text-anchor="end" fill="#000" font-family='"Liberation Sans", sans-serif' transform="rotate(-90 505.88 366.3)">X82108</text>
<text x="514.26" y="366.3" font-size="6.2" text-anchor="end" fill="#000" font-family='"Liberation Sans", sans-serif' transform="rotate(-90 514.26 366.3)">X80839</text>
<text x="522.65" y="366.3" font-size="6.2" text-anchor="end" fill="#000" font-family='"Liberation Sans", sans-serif' transform="rotate(-90 522.65 366.3)">X82190</text>
<text x="531.04" y="366.3" font-size="6.2" text-anchor="end" fill="#000" font-family='"Liberation Sans", sans-serif' transform="rotate(-90 531.04 366.3)">X83488</text>
<text x="539.43" y="366.3" font-size="6.2" text-anchor="end" fill="#000" font-family='"Liberation Sans", sans-serif' transform="rotate(-90 539.43 366.3)">X83268</text>
<text x="547.81" y="366.3" font-size="6.2" text-anchor="end" fill="#000" font-family='"Liberation Sans", sans-serif' transform="rotate(-90 547.81 366.3)">X80577</text>
<text x="556.2" y="366.3" font-size="6.2" text-anchor="end" fill="#000" font-family='"Liberation Sans", sans-serif' transform="rotate(-90 556.2 366.3)">X84589</text>
<text x="564.59" y="366.3" font-size="6.2" text-anchor="end" fill="#000" font-family='"Liberation Sans", sans-serif' transform="rotate(-90 564.59 366.3)">X83730</text>
<text x="572.97" y="366.3" font-size="6.2" text-anchor="end" fill="#000" font-family='"Liberation Sans", sans-serif' transform="rotate(-90 572.97 366.3)">X84303</text>
<text x="581.36" y="366.3" font-size="6.2" text-anchor="end" fill="#000" font-family='"Liberation Sans", sans-serif' transform="rotate(-90 581.36 366.3)">X85028</text>
<text x="589.75" y="366.3" font-size="6.2" text-anchor="end" fill="#000" font-family='"Liberation Sans", sans-serif' transform="rotate(-90 589.75 366.3)">X81435</text>
<text x="598.14" y="366.3" font-size="6.2" text-anchor="end" fill="#000" font-family='"Liberation Sans", sans-serif' transform="rotate(-90 598.14 366.3)">X80536</text>
<text x="606.52" y="366.3" font-size="6.2" text-anchor="end" fill="#000" font-family='"Liberation Sans", sans-serif' transform="rotate(-90 606.52 366.3)">X81334</text>
<text x="614.91" y="366.3" font-size="6.2" text-anchor="end" fill="#000" font-family='"Liberation Sans", sans-serif' transform="rotate(-90 614.91 366.3)">X83019</text>
<text x="623.3" y="366.3" font-size="6.2" text-anchor="end" fill="#000" font-family='"Liberation Sans", sans-serif' transform="rotate(-90 623.3 366.3)">X80944</text>
<text x="631.68" y="366.3" font-size="6.2" text-anchor="end" fill="#000" font-family='"Liberation Sans", sans-serif' transform="rotate(-90 631.68 366.3)">X83420</text>
<text x="640.07" y="366.3" font-size="6.2" text-anchor="end" fill="#000" font-family='"Liberation Sans", sans-serif' transform="rotate(-90 640.07 366.3)">X84292</text>
<text x="648.46" y="366.3" font-size="6.2" text-anchor="end" fill="#000" font-family='"Liberation Sans", sans-serif' transform="rotate(-90 648.46 366.3)">X81191</text>
<text x="656.85" y="366.3" font-size="6.2" text-anchor="end" fill="#000" font-family='"Liberation Sans", sans-serif' transform="rotate(-90 656.85 366.3)">X80822</text>
<text x="665.23" y="366.3" font-size="6.2" text-anchor="end" fill="#000" font-family='"Liberation Sans", sans-serif' transform="rotate(-90 665.23 366.3)">X83527</text>
<text x="673.62" y="366.3" font-size="6.2" text-anchor="end" fill="#000" font-family='"Liberation Sans", sans-serif' transform="rotate(-90 673.62 366.3)">X81542</text>
<text x="682.01" y="366.3" font-size="6.2" text-anchor="end" fill="#000" font-family='"Liberation Sans", sans-serif' transform="rotate(-90 682.01 366.3)">X81012</text>
</svg>
</body></html>
